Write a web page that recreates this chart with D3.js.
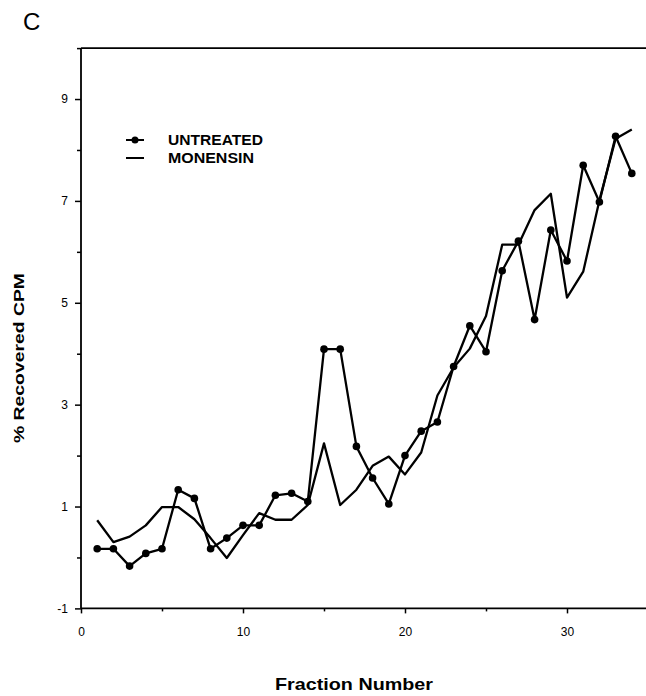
<!DOCTYPE html>
<html><head><meta charset="utf-8">
<script src="https://cdn.jsdelivr.net/npm/d3@7/dist/d3.min.js"></script>
<style>body{margin:0;background:#fff}svg{display:block}</style>
</head><body>
<svg id="chart" width="646" height="696"></svg>
<script>
const fractions = d3.range(1, 35);
const untreated = [0.17, 0.17, -0.17, 0.08, 0.17, 1.33, 1.16, 0.17, 0.38, 0.63,
  0.63, 1.22, 1.26, 1.10, 4.09, 4.09, 2.18, 1.56, 1.05, 2.00,
  2.48, 2.66, 3.75, 4.55, 4.04, 5.63, 6.21, 4.67, 6.43, 5.82,
  7.70, 6.98, 8.27, 7.54];
const monensin = [0.73, 0.30, 0.41, 0.63, 0.99, 0.99, 0.75, 0.38, -0.01, 0.44,
  0.87, 0.74, 0.74, 1.03, 2.24, 1.03, 1.33, 1.80, 1.98, 1.63,
  2.06, 3.18, 3.73, 4.10, 4.74, 6.14, 6.14, 6.82, 7.14, 5.10,
  5.61, 7.01, 8.22, 8.40];
const xTicks = [0, 10, 20, 30];
const xMinorTicks = [5, 15, 25, 35];
const yTicks = [-1, 1, 3, 5, 7, 9];
const yMinorTicks = [0, 2, 4, 6, 8, 10];
const seriesNames = ["UNTREATED", "MONENSIN"];

const font = "'Liberation Sans', Arial, Helvetica, sans-serif";
const svg = d3.select("#chart");
const x = d3.scaleLinear().domain([0, 35]).range([81, 648]);
const y = d3.scaleLinear().domain([-1, 10]).range([608.4, 48.1]);

// frame lines
const axisW = 1.8;
svg.append("line").attr("x1", x(0)).attr("x2", x(35)).attr("y1", y(10)).attr("y2", y(10))
  .attr("stroke", "#000").attr("stroke-width", axisW);

// y axis
const yAxis = d3.axisLeft(y).tickValues(yTicks).tickSize(6).tickFormat(d => String(d));
const gy = svg.append("g").attr("transform", `translate(${x(0)},0)`).call(yAxis);
const yMinor = d3.axisLeft(y).tickValues(yMinorTicks).tickSize(4).tickFormat("");
const gy2 = svg.append("g").attr("transform", `translate(${x(0)},0)`).call(yMinor);
// x axis
const xAxis = d3.axisBottom(x).tickValues(xTicks).tickSize(5).tickPadding(14).tickFormat(d => String(d));
const gx = svg.append("g").attr("transform", `translate(0,${y(-1)})`).call(xAxis);
const xMinor = d3.axisBottom(x).tickValues(xMinorTicks).tickSize(3).tickFormat("");
const gx2 = svg.append("g").attr("transform", `translate(0,${y(-1)})`).call(xMinor);

[gy, gy2, gx, gx2].forEach(g => {
  g.select(".domain").attr("stroke", "#000").attr("stroke-width", axisW);
  g.selectAll(".tick line").attr("stroke", "#000").attr("stroke-width", 1.5);
  g.selectAll("text").attr("font-family", font).attr("font-size", 12).attr("fill", "#000");
});
gy2.select(".domain").remove();
gx2.select(".domain").remove();
gy.select(".domain").attr("d", `M0,${y(10)}V${y(-1)}`);
gx.select(".domain").attr("d", `M${x(0)},0H${x(35)}`);
gy.selectAll(".tick text").attr("x", -13);

// series
const line = d3.line().x((d, i) => x(fractions[i])).y(d => y(d));
svg.append("path").datum(monensin).attr("d", line)
  .attr("fill", "none").attr("stroke", "#000").attr("stroke-width", 2.3).attr("stroke-linejoin", "round");
svg.append("path").datum(untreated).attr("d", line)
  .attr("fill", "none").attr("stroke", "#000").attr("stroke-width", 2.3).attr("stroke-linejoin", "round");
svg.append("g").selectAll("circle").data(untreated).join("circle")
  .attr("cx", (d, i) => x(fractions[i])).attr("cy", d => y(d)).attr("r", 3.8).attr("fill", "#000");

// legend
const leg = svg.append("g");
const rows = [140, 158];
seriesNames.forEach((name, i) => {
  leg.append("line").attr("x1", 126).attr("x2", 144).attr("y1", rows[i]).attr("y2", rows[i])
    .attr("stroke", "#000").attr("stroke-width", 2);
  if (i === 0) leg.append("circle").attr("cx", 135).attr("cy", rows[i]).attr("r", 3.5).attr("fill", "#000");
  leg.append("text").attr("x", 168).attr("y", rows[i] + 5).text(name)
    .attr("font-family", font).attr("font-weight", "bold").attr("font-size", 14.5)
    .attr("textLength", i === 0 ? 95 : 86).attr("lengthAdjust", "spacingAndGlyphs");
});

// labels
svg.append("text").attr("x", 23).attr("y", 30).text("C")
  .attr("font-family", font).attr("font-size", 24);
svg.append("text").attr("transform", "translate(24,358) rotate(-90)").attr("text-anchor", "middle")
  .text("% Recovered CPM").attr("font-family", font).attr("font-weight", "bold").attr("font-size", 15)
  .attr("textLength", 170).attr("lengthAdjust", "spacingAndGlyphs");
svg.append("text").attr("x", 354).attr("y", 690).attr("text-anchor", "middle")
  .text("Fraction Number").attr("font-family", font).attr("font-weight", "bold").attr("font-size", 17)
  .attr("textLength", 158).attr("lengthAdjust", "spacingAndGlyphs");
</script>
</body></html>
